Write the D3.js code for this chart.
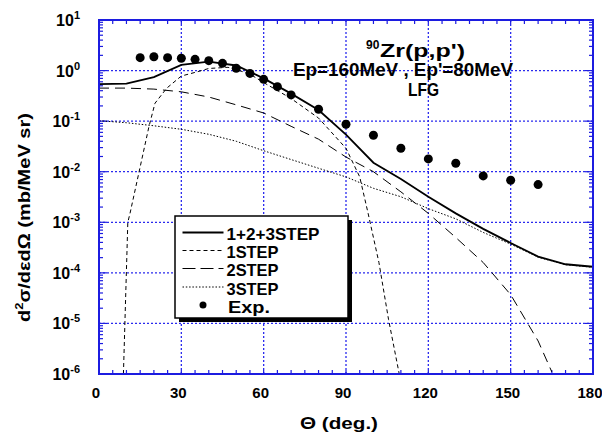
<!DOCTYPE html>
<html>
<head>
<meta charset="utf-8">
<script src="https://cdn.jsdelivr.net/npm/d3@7"></script>
<style>
  body { margin: 0; background: #fff; }
  svg { display: block; }
  text { font-family: "Liberation Sans", Arial, sans-serif; font-weight: bold; fill: #000; }
</style>
</head>
<body>
<svg id="chart" width="602" height="438"></svg>
<script>
// angles (deg.) and cross sections (mb/MeV sr)
const thetaTotal = [0, 10, 20, 30, 40, 50, 60, 70, 80, 90, 100, 110, 120, 130, 140, 150, 160, 170, 180];
const total = [0.54, 0.55, 0.74, 1.29, 1.50, 1.26, 0.70, 0.35, 0.166, 0.054, 0.0151, 0.0072, 0.0032, 0.0015, 7.4e-4, 3.9e-4, 2.1e-4, 1.48e-4, 1.32e-4];

const theta1 = [8.9, 10.5, 11.3, 18.2, 20.4, 24.7, 30, 35, 40, 47, 50, 55, 60, 70, 80, 90, 95, 98, 102, 105.5, 109.4];
const step1 = [1e-6, 1.0e-3, 1.5e-3, 0.078, 0.226, 0.45, 0.78, 0.92, 1.10, 1.16, 1.05, 0.85, 0.58, 0.28, 0.115, 0.029, 0.0079, 0.00155, 1.6e-4, 1.2e-5, 1e-6];

const theta2 = [0, 10, 20, 30, 40, 50, 60, 70, 80, 90, 100, 110, 120, 130, 140, 150, 160, 165];
const step2 = [0.45, 0.45, 0.43, 0.38, 0.30, 0.21, 0.145, 0.079, 0.044, 0.0195, 0.010, 0.0040, 0.0015, 5.0e-4, 1.6e-4, 3.7e-5, 4.5e-6, 1.1e-6];

const theta3 = [0, 10, 20, 30, 40, 50, 60, 70, 80, 90, 100, 110, 120, 130, 140, 150, 160, 170, 180];
const step3 = [0.102, 0.093, 0.081, 0.069, 0.055, 0.040, 0.026, 0.0174, 0.0117, 0.0079, 0.0047, 0.0032, 0.00186, 0.00117, 6.3e-4, 3.7e-4, 2.04e-4, 1.45e-4, 1.29e-4];

const thetaExp = [15, 20, 25, 30, 35, 40, 45, 50, 55, 60, 65, 70, 80, 90, 100, 110, 120, 130, 140, 150, 160];
const exp = [1.80, 1.88, 1.80, 1.75, 1.67, 1.57, 1.39, 1.11, 0.88, 0.67, 0.48, 0.33, 0.172, 0.087, 0.0526, 0.0291, 0.0179, 0.0147, 0.00826, 0.00679, 0.00556];

const xTicks = [0, 30, 60, 90, 120, 150, 180];
const yExponents = [1, 0, -1, -2, -3, -4, -5, -6];
const legendLabels = ['1+2+3STEP', '1STEP', '2STEP', '3STEP', 'Exp.'];

const svg = d3.select('#chart');
const plotLeft = 99, plotRight = 593, plotTop = 20, plotBottom = 374;
const blue = '#1c1ce0';

const x = d3.scaleLinear().domain([0, 180]).range([plotLeft, plotRight]);
const y = d3.scaleLog().domain([1e-6, 10]).range([plotBottom, plotTop]);

svg.append('defs').append('clipPath').attr('id', 'plot')
  .append('rect').attr('x', plotLeft).attr('y', plotTop)
  .attr('width', plotRight - plotLeft).attr('height', plotBottom - plotTop);

// dotted grid
const grid = svg.append('g')
  .attr('stroke', '#2a2aee').attr('stroke-width', 1.3).attr('stroke-dasharray', '2,2');
grid.selectAll('line.gx').data(xTicks.slice(1, -1)).enter().append('line')
  .attr('x1', d => x(d)).attr('x2', d => x(d)).attr('y1', plotTop).attr('y2', plotBottom);
grid.selectAll('line.gy').data(yExponents.slice(1, -1)).enter().append('line')
  .attr('y1', d => y(Math.pow(10, d))).attr('y2', d => y(Math.pow(10, d)))
  .attr('x1', plotLeft).attr('x2', plotRight);

// frame ticks (inward on all sides)
const ticks = svg.append('g').attr('stroke', blue).attr('stroke-width', 1.2);
const xMinor = d3.range(5, 180, 5);
xMinor.forEach(t => {
  ticks.append('line').attr('x1', x(t)).attr('x2', x(t)).attr('y1', plotBottom).attr('y2', plotBottom - 4);
  ticks.append('line').attr('x1', x(t)).attr('x2', x(t)).attr('y1', plotTop).attr('y2', plotTop + 4);
});
const yMinor = [];
for (let e = -6; e < 1; e++) for (let m = 2; m <= 9; m++) yMinor.push(m * Math.pow(10, e));
yMinor.forEach(v => {
  ticks.append('line').attr('x1', plotLeft).attr('x2', plotLeft + 4).attr('y1', y(v)).attr('y2', y(v));
  ticks.append('line').attr('x1', plotRight).attr('x2', plotRight - 4).attr('y1', y(v)).attr('y2', y(v));
});
yExponents.forEach(e => {
  const v = Math.pow(10, e);
  ticks.append('line').attr('x1', plotLeft).attr('x2', plotLeft + 8).attr('y1', y(v)).attr('y2', y(v));
  ticks.append('line').attr('x1', plotRight).attr('x2', plotRight - 8).attr('y1', y(v)).attr('y2', y(v));
});

// curves
const plot = svg.append('g').attr('clip-path', 'url(#plot)');
function curve(xs, ys, width, dash) {
  const line = d3.line().x(d => x(d[0])).y(d => y(d[1]));
  plot.append('path')
    .attr('d', line(d3.zip(xs, ys)))
    .attr('fill', 'none').attr('stroke', '#000')
    .attr('stroke-width', width)
    .attr('stroke-dasharray', dash);
}
curve(theta3, step3, 1, '1.5,1.8');
curve(theta2, step2, 1, '10,6');
curve(theta1, step1, 1, '4,3');
curve(thetaTotal, total, 1.8, null);

plot.selectAll('circle.exp').data(d3.zip(thetaExp, exp)).enter().append('circle')
  .attr('cx', d => x(d[0])).attr('cy', d => y(d[1])).attr('r', 4.5).attr('fill', '#000');

// frame
svg.append('rect').attr('x', plotLeft).attr('y', plotTop)
  .attr('width', plotRight - plotLeft).attr('height', plotBottom - plotTop)
  .attr('fill', 'none').attr('stroke', blue).attr('stroke-width', 2);

// x tick labels
svg.selectAll('text.xl').data(xTicks).enter().append('text')
  .attr('x', d => x(d) - 3).attr('y', 398).attr('text-anchor', 'middle')
  .attr('font-size', 15).text(d => d);

// y tick labels 10^n
yExponents.forEach(e => {
  const t = svg.append('text').attr('x', 80).attr('y', y(Math.pow(10, e)) + 6)
    .attr('text-anchor', 'end').attr('font-size', 16);
  t.append('tspan').text('10');
  t.append('tspan').attr('dy', -7).attr('font-size', 11).text(e);
});

// axis titles
svg.append('text').attr('x', 300).attr('y', 429)
  .attr('font-size', 17).attr('textLength', 78).attr('lengthAdjust', 'spacingAndGlyphs')
  .text('\u0398 (deg.)');

const yt = svg.append('text').attr('transform', 'translate(30,322) rotate(-90)')
  .attr('font-size', 17).attr('textLength', 209).attr('lengthAdjust', 'spacingAndGlyphs');
yt.append('tspan').text('d');
yt.append('tspan').attr('dy', -7).attr('font-size', 11).text('2');
yt.append('tspan').attr('dy', 7).text('\u03c3/d\u03b5d\u03a9  (mb/MeV  sr)');

// reaction label
const t1 = svg.append('text').attr('x', 366).attr('y', 57).attr('font-size', 18);
t1.append('tspan').attr('dy', -8).attr('font-size', 12).text('90');
t1.append('tspan').attr('dy', 8).attr('x', 380).text("Zr(p,p')")
  .attr('textLength', 85).attr('lengthAdjust', 'spacingAndGlyphs');
svg.append('text').attr('x', 293).attr('y', 76).attr('font-size', 18)
  .attr('textLength', 220).attr('lengthAdjust', 'spacingAndGlyphs')
  .text("Ep=160MeV , Ep'=80MeV");
svg.append('text').attr('x', 408).attr('y', 96).attr('font-size', 18)
  .attr('textLength', 31).attr('lengthAdjust', 'spacingAndGlyphs')
  .text('LFG');

// legend box with shadow
const lg = svg.append('g');
lg.append('rect').attr('x', 179).attr('y', 220).attr('width', 173).attr('height', 102).attr('fill', '#000');
lg.append('rect').attr('x', 175).attr('y', 216).attr('width', 173).attr('height', 102)
  .attr('fill', '#fff').attr('stroke', '#000').attr('stroke-width', 1.5);

const legendY = [240, 258, 276, 294.5, 312.5];
const legendWidth = [93, 52, 52, 52, 42];
const legendStyle = [[1.8, null], [1, '4,3'], [1, '13,5'], [1, '1.5,1.8']];
legendLabels.forEach((name, i) => {
  lg.append('text').attr('x', i === 4 ? 228 : 226.5).attr('y', legendY[i]).attr('font-size', 17)
    .attr('textLength', legendWidth[i]).attr('lengthAdjust', 'spacingAndGlyphs').text(name);
  const cy = legendY[i] - 7.5;
  if (i < 4) {
    lg.append('line').attr('x1', 182.5).attr('x2', 223.5).attr('y1', cy).attr('y2', cy)
      .attr('stroke', '#000').attr('stroke-width', legendStyle[i][0])
      .attr('stroke-dasharray', legendStyle[i][1]);
  } else {
    lg.append('circle').attr('cx', 203).attr('cy', cy).attr('r', 3.5).attr('fill', '#000');
  }
});
</script>
</body>
</html>
